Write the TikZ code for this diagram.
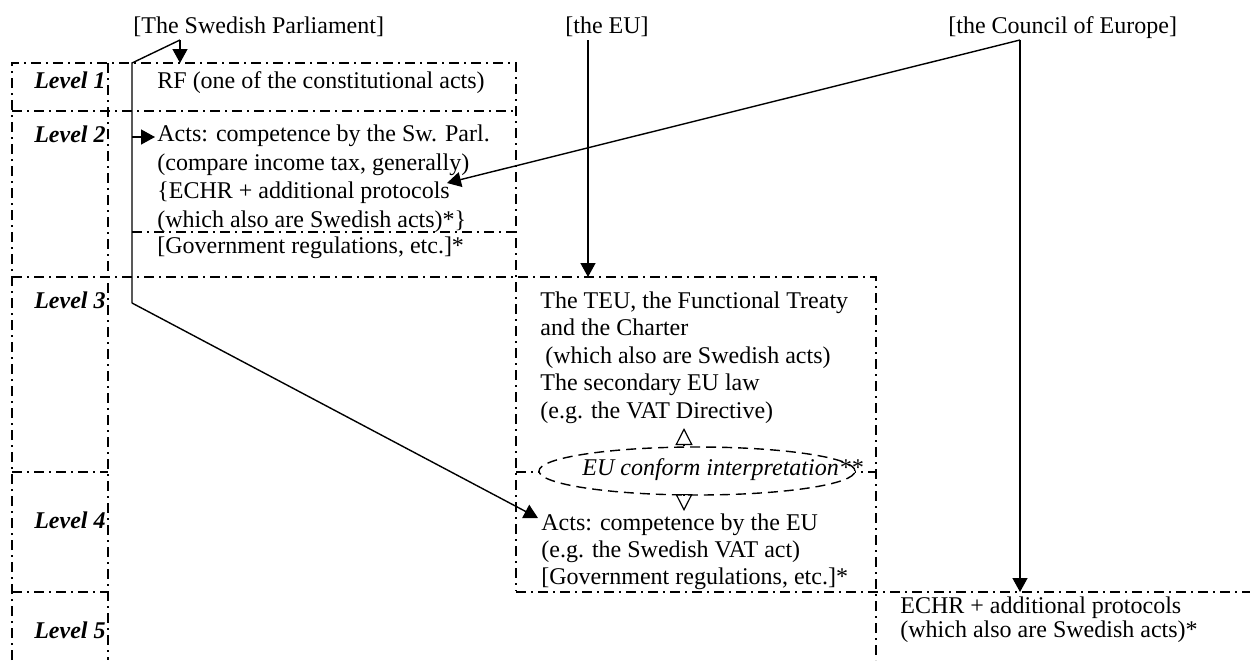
\documentclass[tikz,border=0pt]{standalone}
\usepackage{fontspec}
\setmainfont{Liberation Serif}
\usetikzlibrary{arrows.meta,shapes.geometric}

\tikzset{
  frame/.style={line width=0.7pt, dash pattern=on 5pt off 2.5pt on 1pt off 2.5pt},
  wire/.style={line width=0.7pt},
  link/.style={wire, -{Triangle[length=7pt,width=7.5pt]}},
  hint/.style={line width=0.6pt, dash pattern=on 2.5pt off 1.5pt, -{Triangle[open,length=8.5pt,width=8.5pt]}},
  txt/.style={anchor=base west, inner sep=0pt, align=left, font=\fontsize{12}{13.75}\selectfont},
  lvl/.style={anchor=base east, inner sep=0pt, font=\fontsize{12}{13.75}\selectfont\bfseries\itshape},
  interp/.style={ellipse, draw, fill=white, line width=0.7pt, dash pattern=on 5pt off 3pt,
    minimum width=158pt, minimum height=24pt, inner sep=0pt}
}

\begin{document}
\begin{tikzpicture}[x=0.5pt,y=-0.5pt]
    \useasboundingbox (0,0) rectangle (1250,660);

    % the grid of levels
    \draw[frame] (12,660) -- (12,63) -- (516,63) -- (516,591);
    \draw[frame] (108,63) -- (108,660);
    \draw[frame] (12,111) -- (516,111);
    \draw[frame] (132,232) -- (516,232);
    \draw[frame] (12,277) -- (876,277) -- (876,660);
    \draw[frame] (12,472) -- (108,472);
    \draw[frame] (516,472) -- (876,472);
    \draw[frame] (12,592) -- (108,592);
    \draw[frame] (516,592) -- (1250,592);

    % law makers
    \node[txt] (parl) at (133,33) {[The Swedish Parliament]};
    \node[txt] (eu) at (565,33) {[the EU]};
    \node[txt] (coe) at (948,33) {[the Council of Europe]};

    \foreach \n/\y in {1/88, 2/142, 3/308, 4/528, 5/638}
        \node[lvl] (lv\n) at (106,\y) {Level \n};

    % sources of law (placed by the baseline of their last line)
    \node[txt] (rf) at (157,88) {RF (one of the constitutional acts)};
    \node[txt, font=\fontsize{12}{14.2}\selectfont] (swacts) at (157,227) {Acts: competence by the Sw. Parl.\\(compare income tax, generally)\\\{ECHR + additional protocols\\(which also are Swedish acts)*\}};
    \node[txt] (govA) at (157,253) {[Government regulations, etc.]*};
    \node[txt] (teu) at (540,418) {The TEU, the Functional Treaty\\and the Charter\\\hspace{2.5pt}(which also are Swedish acts)\\The secondary EU law\\(e.g. the VAT Directive)};
    \node[interp] (conform) at (697,471) {};
    \node[txt, font=\fontsize{12}{13.75}\selectfont\itshape] (conformtxt) at (582,475) {EU conform interpretation**};
    \node[txt, font=\fontsize{12}{13.4}\selectfont] (euacts) at (541,584) {Acts: competence by the EU\\(e.g. the Swedish VAT act)\\{}[Government regulations, etc.]*};
    \node[txt, font=\fontsize{12}{12}\selectfont] (echr) at (900,637) {ECHR + additional protocols\\(which also are Swedish acts)*};

    % connectors
    \coordinate (pk) at (180,40);
    \coordinate (pv) at (132,63);
    \coordinate (pa) at (132,137);
    \coordinate (pb) at (132,303);
    \coordinate (rfin) at (180,63);
    \coordinate (swin) at (155,137);
    \coordinate (euin) at (538,518);
    \draw[wire] (pk) -- (pv) -- (pb);
    \draw[link] (pk) -- (rfin);
    \draw[link] (pa) -- (swin);
    \draw[link] (pb) -- (euin);

    \coordinate (eufoot) at (588,40);
    \coordinate (eutop) at (588,277);
    \draw[link] (eufoot) -- (eutop);

    \coordinate (coefoot) at (1020,40);
    \coordinate (coein) at (447,183);
    \coordinate (coeout) at (1020,592);
    \draw[link] (coefoot) -- (coein);
    \draw[link] (coefoot) -- (coeout);

    \coordinate (upto) at (684,428);
    \coordinate (downto) at (684,511);
    \draw[hint] (conform.north -| upto) -- (upto);
    \draw[hint] (conform.south -| downto) -- (downto);
\end{tikzpicture}
\end{document}
